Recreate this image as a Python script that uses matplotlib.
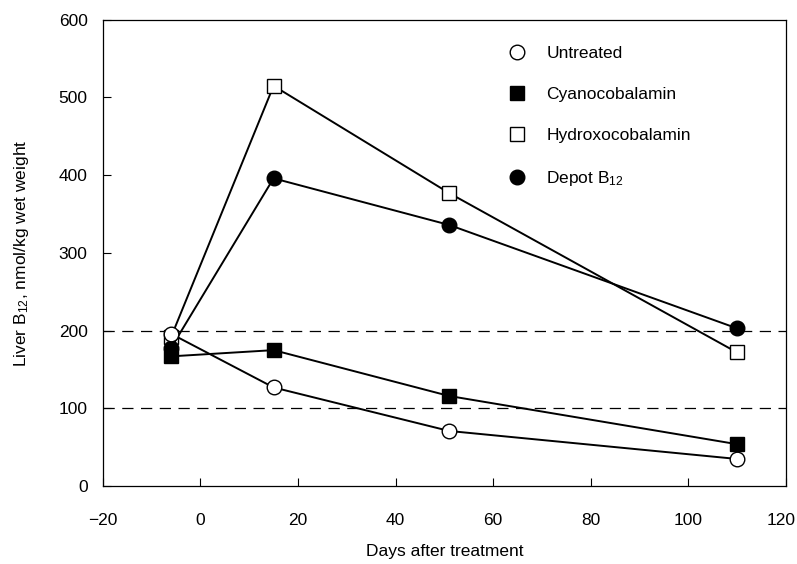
import matplotlib
matplotlib.use("Agg")
import matplotlib.pyplot as plt
from matplotlib.lines import Line2D
from matplotlib.transforms import ScaledTranslation

plt.rcParams["font.family"] = ["Liberation Sans", "DejaVu Sans"]
plt.rcParams["mathtext.default"] = "regular"

# === Data (days after treatment, liver B12 in nmol/kg) ===
days = [-6, 15, 51, 110]
untreated = [196, 127, 71, 35]
cyanocobalamin = [167, 175, 116, 54]
hydroxocobalamin = [192, 515, 377, 172]
depot_b12 = [178, 396, 336, 203]

x_ticks = [-20, 0, 20, 40, 60, 80, 100, 120]
y_ticks = [0, 100, 200, 300, 400, 500, 600]
ref_levels = [100, 200]

# === Figure ===
fig = plt.figure(figsize=(7.97, 5.64), dpi=100)
ax = fig.add_axes([0.129, 0.138, 0.857, 0.827])

for lvl in ref_levels:
    ax.axhline(lvl, color="black", lw=0.9, ls=(0, (9, 6)), zorder=1)

line_kw = dict(color="black", lw=1.4, ms=10.5, markeredgewidth=1.0, zorder=3)
ax.plot(days, hydroxocobalamin, marker="s", mfc="white", mec="black", **line_kw)
ax.plot(days, depot_b12, marker="o", mfc="black", mec="black", **line_kw)
ax.plot(days, untreated, marker="o", mfc="white", mec="black", **line_kw)
ax.plot(days, cyanocobalamin, marker="s", mfc="black", mec="black", **line_kw)

ax.set_xlim(-20, 120)
ax.set_ylim(0, 600)
ax.set_xticks(x_ticks)
ax.set_yticks(y_ticks)
ax.set_xticklabels(["\u221220" if t < 0 else str(t) for t in x_ticks])
ax.tick_params(direction="in", length=6, width=0.8, labelsize=12.5)
ax.tick_params(axis="y", pad=11)
ax.tick_params(axis="x", pad=19)
for s in ax.spines.values():
    s.set_linewidth(0.9)

# nudge the last x label in so it stays inside the figure
last = ax.get_xticklabels()[-1]
last.set_transform(last.get_transform() + ScaledTranslation(-5 / 100, 0, fig.dpi_scale_trans))

ax.set_xlabel("Days after treatment", fontsize=12.5, labelpad=12)
ax.set_ylabel("Liver B$_{12}$, nmol/kg wet weight", fontsize=12.5, labelpad=20)

# === Legend ===
handles = [
    Line2D([], [], ls="none", marker="o", ms=10.5, mfc="white", mec="black"),
    Line2D([], [], ls="none", marker="s", ms=10.5, mfc="black", mec="black"),
    Line2D([], [], ls="none", marker="s", ms=10.5, mfc="white", mec="black"),
    Line2D([], [], ls="none", marker="o", ms=10.5, mfc="black", mec="black"),
]
labels = ["Untreated", "Cyanocobalamin", "Hydroxocobalamin", "Depot B$_{12}$"]
ax.legend(handles, labels, loc="upper left", bbox_to_anchor=(0.568, 0.977),
          frameon=False, fontsize=12.5, labelspacing=1.48, handletextpad=1.1,
          handlelength=1.2)

fig.savefig("out.png", dpi=100)
